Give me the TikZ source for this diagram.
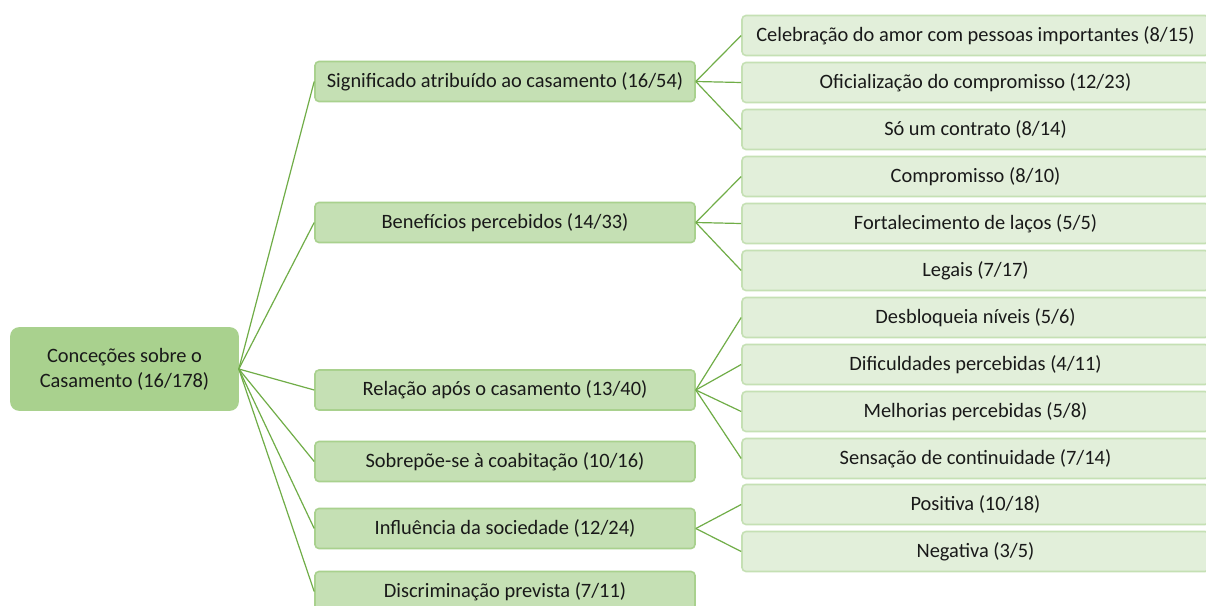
\documentclass[tikz,border=0pt]{standalone}
\usepackage{fontspec}
\setmainfont{Carlito}
\definecolor{rootfill}{HTML}{A9D18E}
\definecolor{rootdraw}{HTML}{A9D18E}
\definecolor{midfill}{HTML}{C5E0B4}
\definecolor{middraw}{HTML}{A9D18E}
\definecolor{leaffill}{HTML}{E2EFDA}
\definecolor{leafdraw}{HTML}{C5E0B4}
\definecolor{linkc}{HTML}{70AD47}
\begin{document}
\begin{tikzpicture}[x=1pt,y=-1pt,
  box/.style={rounded corners=4pt, line width=1.6pt, inner sep=0pt, align=center, text=black!90, font=\fontsize{20.4}{25}\selectfont},
  rootbox/.style={box, fill=rootfill, draw=rootdraw, rounded corners=8pt, minimum width=227pt, minimum height=82pt},
  midbox/.style={box, fill=midfill, draw=middraw, minimum width=380pt, minimum height=40pt},
  leafbox/.style={box, fill=leaffill, draw=leafdraw, minimum width=467pt, minimum height=40pt},
  link/.style={draw=linkc, line width=1.2pt}]
\clip (0,0) rectangle (1206,605);
\fill[white] (0,0) rectangle (1206,605);
% root
\node[rootbox] (root) at (124.5,369) {Conceções sobre o\\Casamento (16/178)};
% level 1
\node[midbox] (m1) at (505,81.5) {Significado atribuído ao casamento (16/54)};
\node[midbox] (m2) at (505,222.5) {Benefícios percebidos (14/33)};
\node[midbox] (m3) at (505,390) {Relação após o casamento (13/40)};
\node[midbox] (m4) at (505,461.5) {Sobrepõe-se à coabitação (10/16)};
\node[midbox] (m5) at (505,528.5) {Influência da sociedade (12/24)};
\node[midbox] (m6) at (505,591.5) {Discriminação prevista (7/11)};
% level 2
\node[leafbox] (l1) at (975.5,35.5) {Celebração do amor com pessoas importantes (8/15)};
\node[leafbox] (l2) at (975.5,82.5) {Oficialização do compromisso (12/23)};
\node[leafbox] (l3) at (975.5,129.5) {Só um contrato (8/14)};
\node[leafbox] (l4) at (975.5,176.5) {Compromisso (8/10)};
\node[leafbox] (l5) at (975.5,223.5) {Fortalecimento de laços (5/5)};
\node[leafbox] (l6) at (975.5,270.5) {Legais (7/17)};
\node[leafbox] (l7) at (975.5,317.5) {Desbloqueia níveis (5/6)};
\node[leafbox] (l8) at (975.5,364.5) {Dificuldades percebidas (4/11)};
\node[leafbox] (l9) at (975.5,411.5) {Melhorias percebidas (5/8)};
\node[leafbox] (l10) at (975.5,458.5) {Sensação de continuidade (7/14)};
\node[leafbox] (l11) at (975.5,504.5) {Positiva (10/18)};
\node[leafbox] (l12) at (975.5,551.5) {Negativa (3/5)};
% connectors
\foreach \m in {m1,m2,m3,m4,m5,m6} \draw[link] (root.east) -- (\m.west);
\foreach \l in {l1,l2,l3} \draw[link] (m1.east) -- (\l.west);
\foreach \l in {l4,l5,l6} \draw[link] (m2.east) -- (\l.west);
\foreach \l in {l7,l8,l9,l10} \draw[link] (m3.east) -- (\l.west);
\foreach \l in {l11,l12} \draw[link] (m5.east) -- (\l.west);
\end{tikzpicture}
\end{document}
